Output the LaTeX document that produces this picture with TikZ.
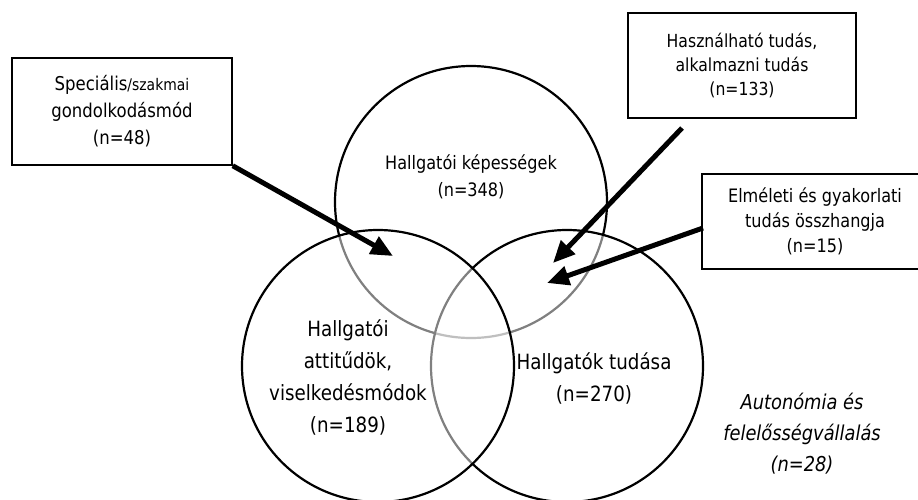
\documentclass[tikz,border=0pt]{standalone}
\usepackage{fontspec}
\setmainfont[FakeStretch=0.87]{DejaVu Sans}
\usetikzlibrary{arrows.meta}
\tikzset{
  venn/.style={draw=black, line width=2.2pt, fill=white, fill opacity=0.5},
  lbl/.style={align=center, inner sep=0pt, text=black},
  infobox/.style={draw=black, line width=1.5pt, fill=white, inner sep=0pt, align=center, text=black},
  bigarrow/.style={line width=5pt, -{Triangle[length=22pt,width=19pt]}}
}
\begin{document}
\begin{tikzpicture}[x=1pt,y=-1pt]
\useasboundingbox (0,0) rectangle (918,499);
% circles (order gives the faded inner arcs)
\path[venn] (471,202) circle[radius=136];
\path[venn] (567,366) circle[radius=136];
\path[venn] (378,366) circle[radius=136];
% circle labels
\node[lbl, font=\fontsize{18.5}{27}\selectfont] (ltop) at (471,177) {Hallgatói képességek\\(n=348)};
\node[lbl, font=\fontsize{21}{32}\selectfont] (lleft) at (348,377) {Hallgatói\\attitűdök,\\viselkedésmódok\\(n=189)};
\node[lbl, font=\fontsize{21}{32}\selectfont] (lright) at (594,378) {Hallgatók tudása\\(n=270)};
\node[lbl, font=\fontsize{20.5}{31}\selectfont\itshape] (lauto) at (802,434) {Autonómia és\\felelősségvállalás\\(n=28)};
% boxes
\node[infobox, minimum width=220pt, minimum height=107pt, font=\fontsize{19}{27}\selectfont] (b1) at (122,111.5)
  {Speciális{\fontsize{16}{27}\selectfont/szakmai}\\gondolkodásmód\\(n=48)};
\node[infobox, minimum width=228pt, minimum height=105pt, font=\fontsize{18}{24}\selectfont] (b2) at (742,65.5)
  {Használható tudás,\\alkalmazni tudás\\(n=133)};
\node[infobox, minimum width=220pt, minimum height=95pt, font=\fontsize{18.5}{25}\selectfont] (b3) at (812,221.5)
  {\hspace*{6pt}Elméleti és gyakorlati\\\hspace*{6pt}tudás összhangja\\\hspace*{6pt}(n=15)};
% arrow end points
\coordinate (t1) at (393,256);
\coordinate (s2) at (682,128);
\coordinate (t2) at (553,263);
\coordinate (s3) at (703,228);
\coordinate (t3) at (547,283);
\draw[bigarrow] (b1.south east) -- (t1);
\draw[bigarrow] (s2) -- (t2);
\draw[bigarrow] (s3) -- (t3);
\end{tikzpicture}
\end{document}
